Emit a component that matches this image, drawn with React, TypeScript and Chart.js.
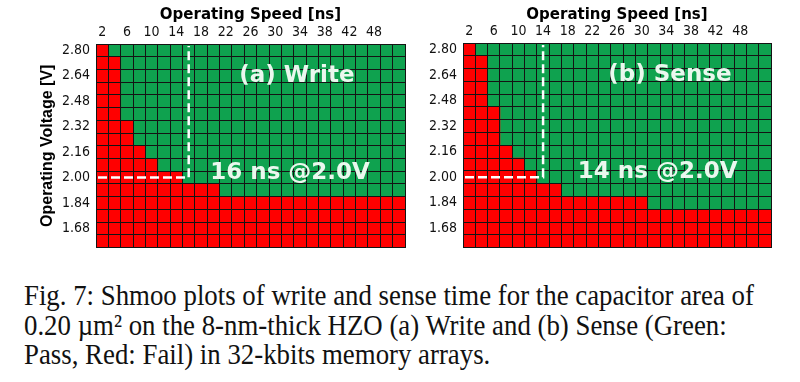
import React, { useEffect, useRef } from 'react';
import { Chart, registerables } from 'chart.js';

Chart.register(...registerables);

// ---------- data ----------
const voltages = ['2.80', '2.72', '2.64', '2.56', '2.48', '2.40', '2.32', '2.24', '2.16', '2.08', '2.00', '1.92', '1.84', '1.76', '1.68', '1.60'];
const speeds = [2, 4, 6, 8, 10, 12, 14, 16, 18, 20, 22, 24, 26, 28, 30, 32, 34, 36, 38, 40, 42, 44, 46, 48, 50];
const speedTickValues = [2, 6, 10, 14, 18, 22, 26, 30, 34, 38, 42, 46];
const speedTickLabels = ['2', '6', '10', '14', '18', '22', '26', '30', '34', '38', '42', '48'];
const voltageTickLabels = ['2.80', '2.64', '2.48', '2.32', '2.16', '2.00', '1.84', '1.68'];
// first passing speed (ns) per voltage row; null = fails at every speed
const writeFirstPass = [4, 6, 6, 6, 6, 6, 8, 8, 10, 12, 16, 22, null, null, null, null];
const senseFirstPass = [4, 6, 6, 6, 6, 8, 8, 8, 10, 12, 14, 18, 32, null, null, null];
const writeSpec = { speed: 16, voltage: '2.00', text: '16 ns @2.0V', panel: '(a) Write' };
const senseSpec = { speed: 14, voltage: '2.00', text: '14 ns @2.0V', panel: '(b) Sense' };
const captionLines = [
  'Fig. 7: Shmoo plots of write and sense time for the capacitor area of',
  '0.20 \u00b5m\u00b2 on the 8-nm-thick HZO (a) Write and (b) Sense (Green:',
  'Pass, Red: Fail) in 32-kbits memory arrays.',
];

// ---------- styles ----------
const RED = '#ff0000';
const GREEN = '#0fa24f';
const GRID = '#141414';
const TEXT_LIGHT = '#eaf8ee';
const TICK_FONT = { family: "'Liberation Sans Narrow', 'DejaVu Sans Condensed', 'Liberation Sans', sans-serif", size: 14 };

const step = speeds[1] - speeds[0];
const lo = speeds[0] - step / 2;
const hi = speeds[speeds.length - 1] + step / 2;
const edges = [...speeds.map((s) => s - step / 2), hi];

const shmooPlugin = {
  id: 'shmoo',
  afterDraw(chart: any, _args: any, opts: any) {
    const { ctx, chartArea, scales } = chart;
    const x = scales.x;
    const y = scales.y;
    const xp = x.getPixelForValue(opts.spec.speed);
    const yp = y.getPixelForValue(voltages.indexOf(opts.spec.voltage));
    ctx.save();
    ctx.strokeStyle = '#ffffff';
    ctx.lineWidth = 2.5;
    ctx.setLineDash([9, 4]);
    ctx.beginPath();
    ctx.moveTo(chartArea.left + 2, yp);
    ctx.lineTo(xp, yp);
    ctx.lineTo(xp, chartArea.top + 2);
    ctx.stroke();
    ctx.setLineDash([]);
    ctx.fillStyle = TEXT_LIGHT;
    ctx.font = "bold 23px 'DejaVu Sans', sans-serif";
    ctx.textAlign = 'center';
    ctx.textBaseline = 'middle';
    ctx.fillText(opts.spec.panel, x.getPixelForValue(opts.panelPos[0]), y.getPixelForValue(opts.panelPos[1]));
    ctx.fillText(opts.spec.text, x.getPixelForValue(opts.specPos[0]), y.getPixelForValue(opts.specPos[1]));
    ctx.restore();
  },
};

function buildConfig(firstPass: (number | null)[], p: any) {
  const barCommon = { grouped: false, barPercentage: 1, categoryPercentage: 1, borderWidth: 0 };
  return {
    type: 'bar',
    data: {
      labels: voltages,
      datasets: [
        { label: 'Fail', data: firstPass.map((fp) => [lo, fp == null ? hi : fp - step / 2]), backgroundColor: RED, ...barCommon },
        { label: 'Pass', data: firstPass.map((fp) => (fp == null ? null : [fp - step / 2, hi])), backgroundColor: GREEN, ...barCommon },
      ],
    },
    options: {
      indexAxis: 'y',
      animation: false,
      responsive: false,
      events: [],
      layout: { padding: p.padding },
      plugins: {
        legend: { display: false },
        tooltip: { enabled: false },
        shmoo: { spec: p.spec, panelPos: p.panelPos, specPos: p.specPos },
      },
      scales: {
        x: {
          type: 'linear',
          position: 'bottom',
          min: lo,
          max: hi,
          afterBuildTicks: (s: any) => { s.ticks = edges.map((v) => ({ value: v })); },
          ticks: { display: false },
          grid: { z: 1, color: GRID, lineWidth: 1, drawTicks: false },
          border: { display: false },
          afterFit: (s: any) => { s.height = 0; },
        },
        xTop: {
          type: 'linear',
          position: 'top',
          min: lo,
          max: hi,
          afterBuildTicks: (s: any) => { s.ticks = speedTickValues.map((v) => ({ value: v })); },
          ticks: {
            autoSkip: false,
            maxRotation: 0,
            padding: 3,
            font: TICK_FONT,
            color: '#111',
            callback: (v: number) => speedTickLabels[speedTickValues.indexOf(v)],
          },
          grid: { display: false, drawTicks: false },
          border: { display: false },
          title: {
            display: true,
            text: 'Operating Speed [ns]',
            font: { family: "'DejaVu Sans', sans-serif", weight: 'bold', size: 15 },
            color: '#000',
            padding: { top: 6, bottom: 0 },
          },
          afterFit: (s: any) => { s.height = p.topHeight; },
        },
        y: {
          type: 'category',
          position: 'left',
          offset: true,
          grid: { z: 1, color: GRID, lineWidth: 1, offset: true, drawTicks: false },
          border: { display: false },
          ticks: {
            autoSkip: false,
            padding: 6,
            font: TICK_FONT,
            color: '#111',
            callback: (_v: any, i: number) => (voltageTickLabels.includes(voltages[i]) ? voltages[i] : ''),
          },
          title: {
            display: p.showYTitle,
            text: 'Operating Voltage [V]',
            font: { family: "'Liberation Sans', Arial, sans-serif", weight: 'bold', size: 16 },
            color: '#000',
            padding: { top: 38, bottom: 0 },
          },
          afterFit: (s: any) => { s.width = p.yWidth; },
        },
      },
    },
    plugins: [shmooPlugin],
  };
}

function Panel({ firstPass, params, left, width, height }: any) {
  const ref = useRef<HTMLCanvasElement | null>(null);
  useEffect(() => {
    if (!ref.current) return;
    const chart = new Chart(ref.current, buildConfig(firstPass, params) as any);
    return () => chart.destroy();
  }, []);
  return (
    <div style={{ position: 'absolute', left, top: 0, width, height }}>
      <canvas ref={ref} width={width} height={height} style={{ width, height, display: 'block' }} />
    </div>
  );
}

export default function App() {
  return (
    <div style={{ position: 'fixed', left: 0, top: 0, width: 800, height: 382, background: '#fff', overflow: 'hidden' }}>
      <Panel
        firstPass={writeFirstPass}
        left={0}
        width={425}
        height={262}
        params={{
          padding: { left: 0, right: 20, top: 0, bottom: 11 },
          topHeight: 44,
          yWidth: 96,
          showYTitle: true,
          spec: writeSpec,
          panelPos: [33.5, 1.98],
          specPos: [32.4, 9.62],
        }}
      />
      <Panel
        firstPass={senseFirstPass}
        left={425}
        width={375}
        height={262}
        params={{
          padding: { left: 0, right: 29, top: 0, bottom: 12 },
          topHeight: 43,
          yWidth: 38,
          showYTitle: false,
          spec: senseSpec,
          panelPos: [34.6, 1.98],
          specPos: [32.6, 9.62],
        }}
      />
      <div
        style={{
          position: 'absolute',
          left: 24,
          top: 280,
          fontFamily: "'Liberation Serif', 'Times New Roman', serif",
          fontSize: 30,
          lineHeight: '29.5px',
          color: '#111',
          whiteSpace: 'nowrap',
          transform: 'scaleX(0.894)',
          transformOrigin: 'left top',
        }}
      >
        {captionLines.map((l, i) => (
          <div key={i}>{l}</div>
        ))}
      </div>
    </div>
  );
}
